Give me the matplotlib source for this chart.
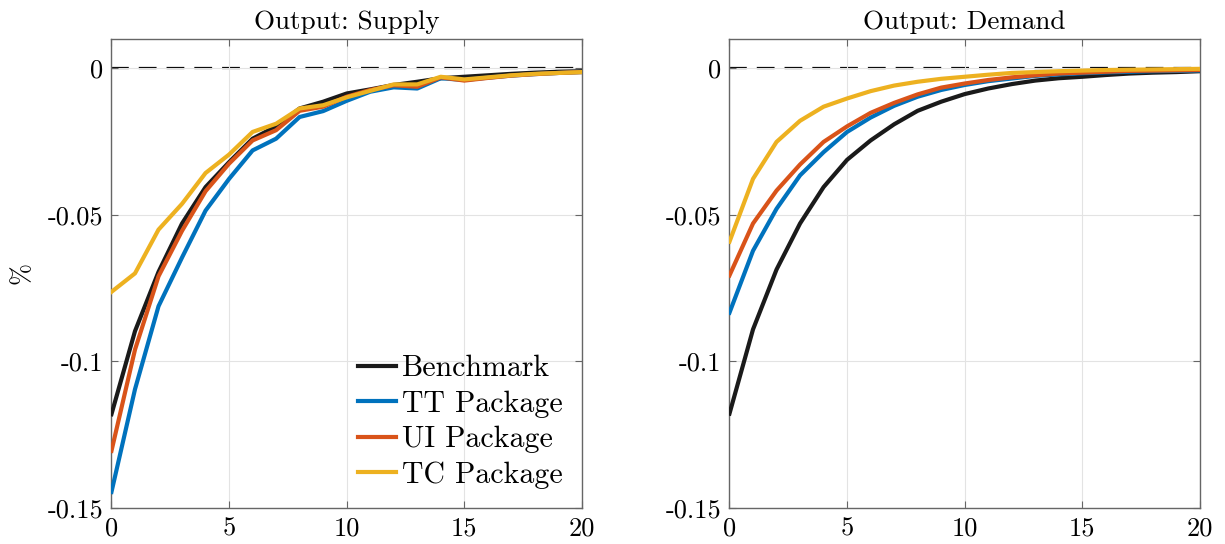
import matplotlib
matplotlib.use("Agg")
from matplotlib import pyplot as plt

plt.rcParams['font.family'] = ['cmr10', 'DejaVu Serif']
plt.rcParams['axes.unicode_minus'] = False
plt.rcParams['mathtext.fontset'] = 'cm'

horizon = list(range(21))

# Output: Supply
supply_benchmark = [-0.118, -0.0897, -0.0695, -0.053, -0.0406, -0.0321, -0.0241, -0.0199, -0.0138,
                    -0.0115, -0.0087, -0.0073, -0.0058, -0.0047, -0.0035, -0.0030, -0.0025,
                    -0.0020, -0.0016, -0.0013, -0.0011]
supply_tt = [-0.1445, -0.1095, -0.0812, -0.0646, -0.0486, -0.0378, -0.0281, -0.0241, -0.0167,
             -0.0147, -0.0112, -0.0081, -0.0066, -0.0070, -0.0035, -0.0041, -0.0033,
             -0.0026, -0.0021, -0.0017, -0.0014]
supply_ui = [-0.1305, -0.0960, -0.0710, -0.0555, -0.0420, -0.0326, -0.0247, -0.0212, -0.0146,
             -0.0132, -0.0098, -0.0075, -0.0059, -0.0064, -0.0032, -0.0043, -0.0034,
             -0.0026, -0.0021, -0.0017, -0.0014]
supply_tc = [-0.0763, -0.0700, -0.0551, -0.0463, -0.0358, -0.0295, -0.0218, -0.0190, -0.0138,
             -0.0127, -0.0100, -0.0078, -0.0056, -0.0056, -0.0030, -0.0039, -0.0032,
             -0.0025, -0.0020, -0.0017, -0.0014]

# Output: Demand
demand_benchmark = [-0.1178, -0.0891, -0.0687, -0.0530, -0.0406, -0.0313, -0.0247, -0.0192, -0.0146,
                    -0.0115, -0.0089, -0.0070, -0.0055, -0.0043, -0.0035, -0.0030, -0.0024,
                    -0.0019, -0.0016, -0.0014, -0.0011]
demand_tt = [-0.0834, -0.0623, -0.0480, -0.0366, -0.0287, -0.0218, -0.0169, -0.0129, -0.0098,
             -0.0075, -0.0058, -0.0045, -0.0036, -0.0027, -0.0022, -0.0018, -0.0015,
             -0.0013, -0.0011, -0.0010, -0.0009]
demand_ui = [-0.0707, -0.0530, -0.0418, -0.0329, -0.0252, -0.0199, -0.0153, -0.0119, -0.0090,
             -0.0067, -0.0053, -0.0041, -0.0032, -0.0025, -0.0019, -0.0016, -0.0013,
             -0.0010, -0.0009, -0.0008, -0.0007]
demand_tc = [-0.0592, -0.0378, -0.0252, -0.0180, -0.0132, -0.0104, -0.0079, -0.0060, -0.0047,
             -0.0037, -0.0030, -0.0023, -0.0017, -0.0014, -0.0011, -0.0009, -0.0007,
             -0.0006, -0.0005, -0.0004, -0.0003]

series_names = ['Benchmark', 'TT Package', 'UI Package', 'TC Package']
series_colors = ['#1a1a1a', '#0072BD', '#D95319', '#EDB120']

yticks = [-0.15, -0.1, -0.05, 0]
ytick_labels = ['-0.15', '-0.1', '-0.05', '0']
xticks = [0, 5, 10, 15, 20]

fig = plt.figure(figsize=(12.25, 5.44), dpi=100)
ax1 = fig.add_axes([0.091, 0.066, 0.384, 0.863])
ax2 = fig.add_axes([0.5955, 0.066, 0.384, 0.863])

panels = [
    (ax1, 'Output: Supply', [supply_benchmark, supply_tt, supply_ui, supply_tc]),
    (ax2, 'Output: Demand', [demand_benchmark, demand_tt, demand_ui, demand_tc]),
]

for ax, title, data in panels:
    ax.axhline(0, color='black', lw=1.6, ls=(0, (8, 4.5)), zorder=1)
    for values, name, col in zip(data, series_names, series_colors):
        ax.plot(horizon, values, color=col, lw=3.0, label=name, zorder=3)
    ax.set_xlim(0, 20)
    ax.set_ylim(-0.15, 0.01)
    ax.set_xticks(xticks)
    ax.set_xticklabels([str(t) for t in xticks])
    ax.set_yticks(yticks)
    ax.set_yticklabels(ytick_labels)
    ax.grid(True, color='#e3e3e3', lw=0.8, zorder=0)
    ax.tick_params(direction='in', top=True, right=True, labelsize=19, length=5,
                   color='#666666', pad=6)
    for sp in ax.spines.values():
        sp.set_color('#666666')
        sp.set_linewidth(1.0)
    ax.set_title(title, fontsize=19.5, pad=7)

ax1.set_ylabel('%', fontsize=19, labelpad=10)
ax1.legend(loc='lower right', frameon=False, fontsize=21.5, handlelength=1.25,
           handletextpad=0.2, labelspacing=0.27, borderaxespad=0.25)

fig.savefig('out.png', dpi=100)
